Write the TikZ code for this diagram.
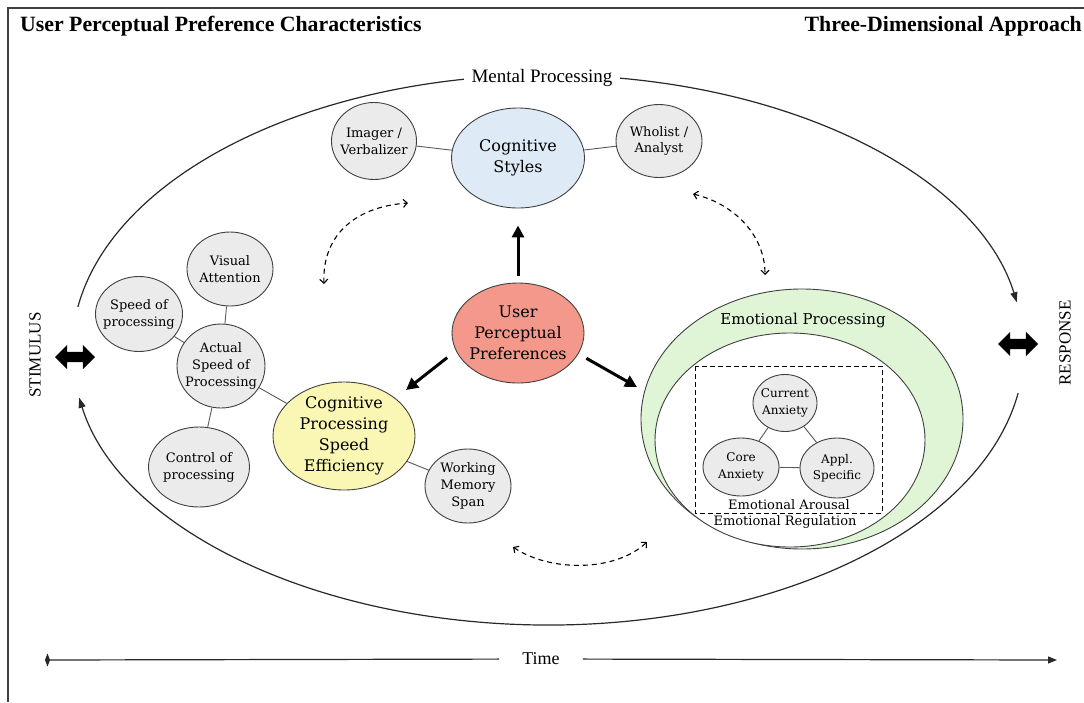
\documentclass[tikz,border=0pt]{standalone}
\usepackage{fontspec}
\setmainfont{Liberation Serif}
\newfontfamily\bubfont{DejaVu Serif}
\usetikzlibrary{shapes.geometric, shapes.arrows, arrows.meta}
\definecolor{csblue}{RGB}{222,235,247}
\definecolor{uppred}{RGB}{243,152,138}
\definecolor{cpyellow}{RGB}{250,247,180}
\definecolor{epgreen}{RGB}{223,245,214}
\definecolor{bubgray}{RGB}{235,235,235}
\definecolor{edgegray}{RGB}{64,64,64}
\definecolor{linkgray}{RGB}{90,90,90}
\definecolor{arcgray}{RGB}{40,40,40}

\begin{document}
\begin{tikzpicture}[x=1pt, y=-1pt,
  bub/.style={ellipse, draw=edgegray, line width=0.9pt, fill=bubgray, inner sep=-5pt, align=center, font=\bubfont\fontsize{13}{17}\selectfont},
  bigbub/.style={bub, font=\bubfont\fontsize{16}{21}\selectfont},
  tinybub/.style={bub, font=\bubfont\fontsize{12}{16.5}\selectfont},
  link/.style={draw=linkgray, line width=0.9pt},
  fat/.style={line width=3pt, -{Triangle[length=12pt,width=12pt]}},
  dash2/.style={dash pattern=on 5pt off 4pt, line width=1.1pt, {Straight Barb[length=4pt,width=8pt]}-{Straight Barb[length=4pt,width=8pt]}},
  bigarc/.style={draw=arcgray, line width=1.2pt, -{Triangle[length=10pt,width=7pt]}},
  block/.style={double arrow, fill=black, inner sep=5pt, minimum height=40pt, double arrow head extend=7pt}]
\useasboundingbox (0,0) rectangle (1084,702);
\draw[line width=1.3pt, draw=edgegray] (8,702) -- (8,8) -- (1084,8);

% titles
\path (20,26) node[anchor=west, inner sep=0pt, font=\bfseries\fontsize{21.8}{25}\selectfont] (TL) {User Perceptual Preference Characteristics};
\path (1082,26) node[anchor=east, inner sep=0pt, font=\bfseries\fontsize{21.8}{25}\selectfont] (TR) {Three-Dimensional Approach};

% mental processing cycle
\draw[bigarc] (548,350) ++(189:476 and 275) arc (189:350:476 and 275);
\draw[bigarc] (548,350) ++(9:476 and 275) arc (9:170:476 and 275);
\path (542,78) node[fill=white, inner xsep=8pt, font=\fontsize{19}{22}\selectfont] (MP) {Mental Processing};

\path (35,355) node[rotate=90, font=\fontsize{17}{20}\selectfont] (ST) {STIMULUS};
\path (1065,343) node[rotate=90, font=\fontsize{17}{20}\selectfont] (RE) {RESPONSE};
\path (75,357) node[block] (LA) {};
\path (1018,344) node[block] (RA) {};

% emotional processing
\path (802,419) node[ellipse, draw=edgegray, line width=0.9pt, fill=epgreen, minimum width=322pt, minimum height=260pt, inner sep=0pt] (EP) {};
\path (790,440) node[ellipse, draw=edgegray, line width=0.9pt, fill=white, minimum width=270pt, minimum height=214pt, inner sep=0pt] (ER) {};
\path (803,320) node[font=\bubfont\fontsize{15}{18}\selectfont] (EPT) {Emotional Processing};
\draw[line width=1pt, dash pattern=on 5pt off 3pt] (695,366) rectangle (882,513);
\path (785,403) node[tinybub, minimum width=64pt, minimum height=57pt] (CA) {Current\\Anxiety};
\path (741,467) node[tinybub, minimum width=76pt, minimum height=58pt] (CoA) {Core\\Anxiety};
\path (837,468) node[tinybub, minimum width=74pt, minimum height=60pt] (AP) {Appl.\\Specific};
\draw[link] (CA) -- (CoA) (CA) -- (AP) (CoA) -- (AP);
\path (789,505) node[font=\bubfont\fontsize{13}{16}\selectfont] (EA) {Emotional Arousal};
\path (785,522) node[font=\bubfont\fontsize{13}{16}\selectfont] (ERT) {Emotional Regulation};

% cognitive styles
\path (518,158) node[bigbub, fill=csblue, minimum width=133pt, minimum height=100pt] (CS) {Cognitive\\Styles};
\path (374,141) node[bub, minimum width=85pt, minimum height=77pt] (IV) {Imager /\\Verbalizer};
\path (659,141) node[bub, minimum width=86pt, minimum height=73pt] (WA) {Wholist /\\Analyst};
\draw[link] (IV) -- (CS) -- (WA);

% user perceptual preferences
\path (518,333) node[bigbub, fill=uppred, minimum width=132pt, minimum height=100pt] (UPP) {User\\Perceptual\\Preferences};

% cognitive processing speed
\path (344,436) node[bigbub, fill=cpyellow, minimum width=142pt, minimum height=108pt] (CP) {Cognitive\\Processing\\Speed\\Efficiency};
\path (468,486) node[bub, minimum width=86pt, minimum height=74pt] (WM) {Working\\Memory\\Span};
\path (221,366) node[bub, minimum width=88pt, minimum height=84pt] (AS) {Actual\\Speed of\\Processing};
\path (230,269) node[bub, minimum width=86pt, minimum height=74pt] (VA) {Visual\\Attention};
\path (139,314) node[bub, minimum width=87pt, minimum height=75pt] (SP) {Speed of\\processing};
\path (199,467) node[bub, minimum width=101pt, minimum height=80pt] (CtP) {Control of\\processing};
\draw[link] (VA) -- (AS) (SP) -- (AS) (CtP) -- (AS) (AS) -- (CP) (CP) -- (WM);

% arrows out of the centre
\coordinate (t1) at (406,390);
\coordinate (t2) at (637,387);
\draw[fat, shorten <=7pt, shorten >=17pt] (UPP.north) -- (CS.south);
\draw[fat, shorten <=11pt] (UPP.196) -- (t1);
\draw[fat, shorten <=9pt] (UPP.-19) -- (t2);

% interactions
\coordinate (d1s) at (324,284);
\coordinate (d1e) at (408,203);
\coordinate (d2s) at (693,194);
\coordinate (d2e) at (765,275);
\coordinate (d3s) at (513,547);
\coordinate (d3e) at (647,542);
\draw[dash2] (d1s) .. controls (322,238) and (352,207) .. (d1e);
\draw[dash2] (d2s) .. controls (735,204) and (765,236) .. (d2e);
\draw[dash2] (d3s) .. controls (550,572) and (615,572) .. (d3e);

% time line
\coordinate (T0) at (45,660);
\coordinate (T1) at (1057,660);
\path (541,659) node[inner xsep=23pt, font=\fontsize{18}{21}\selectfont] (TM) {Time};
\draw[line width=1.2pt, draw=arcgray, {Diamond[length=5pt,width=13pt]}-] (T0) -- (TM);
\draw[line width=1.2pt, draw=arcgray, -{Triangle[length=9pt,width=7pt]}] (TM) -- (T1);
\end{tikzpicture}
\end{document}
